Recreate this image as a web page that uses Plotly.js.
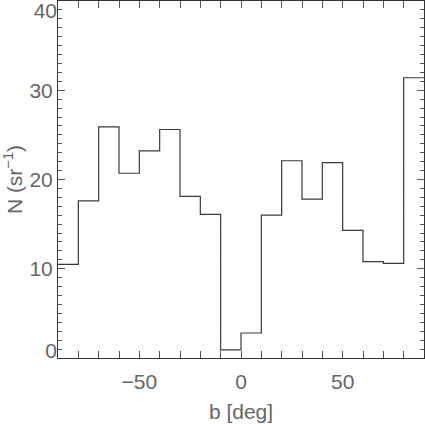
<!DOCTYPE html>
<html>
<head>
<meta charset="utf-8">
<script src="https://cdn.plot.ly/plotly-3.0.1.min.js"></script>
<style>
  body { margin: 0; padding: 0; background: #fff; }
  #myDiv1 { width: 425px; height: 424px; }
</style>
</head>
<body>
<div id="myDiv1"></div>
<script>
// bin edges in galactic latitude b, and counts per steradian
var binEdges = [-90, -80, -70, -60, -50, -40, -30, -20, -10, 0, 10, 20, 30, 40, 50, 60, 70, 80, 90];
var counts = [10.5, 17.6, 25.9, 20.7, 23.2, 25.6, 18.1, 16.1, 0.9, 2.8, 16.0, 22.1, 17.8, 21.9, 14.3, 10.8, 10.6, 31.4];
var yMidTicks = [10, 20, 30];
var yBottomTick = [0];
var yTopTick = [40];

// step line: each edge carries the value of the bin to its right, last edge repeats
var stepY = counts.concat([counts[counts.length - 1]]);

var trace1 = {
    x: binEdges,
    y: stepY,
    type: 'scatter',
    mode: 'lines',
    line: { shape: 'hv', color: '#3a3a3a', width: 1.2 },
    hoverinfo: 'skip'
};

// empty traces, only there so the label-only axes get drawn
var trace2 = { x: [], y: [], type: 'scatter', mode: 'lines', yaxis: 'y2', hoverinfo: 'skip' };
var trace3 = { x: [], y: [], type: 'scatter', mode: 'lines', yaxis: 'y3', hoverinfo: 'skip' };

var axisFont = { family: 'Liberation Sans Narrow, Liberation Sans, sans-serif', size: 21, color: '#666' };

// extra label-only axes so the end labels sit inside the frame, like the original
function labelAxis(vals, shift) {
    return {
        overlaying: 'y',
        range: [0, 40],
        tickmode: 'array',
        tickvals: vals,
        ticks: '',
        showline: false,
        showgrid: false,
        zeroline: false,
        tickfont: axisFont,
        ticklabelshift: shift,
        ticklabeloverflow: 'allow'
    };
}

var layout1 = {
    width: 425,
    height: 424,
    margin: { l: 58, r: 1, t: 1, b: 66 },
    paper_bgcolor: '#fff',
    plot_bgcolor: '#fff',
    showlegend: false,
    font: axisFont,
    xaxis: {
        range: [-90, 90],
        tickmode: 'linear',
        tick0: 0,
        dtick: 50,
        ticks: 'inside',
        ticklen: 7,
        tickcolor: '#555',
        minor: { dtick: 10, tick0: 0, ticks: 'inside', ticklen: 4, tickcolor: '#555', showgrid: false },
        showline: true,
        linecolor: '#333',
        linewidth: 1,
        mirror: 'allticks',
        showgrid: false,
        zeroline: false,
        tickfont: axisFont,
        ticklabelstandoff: 5,
        title: { text: 'b [deg]', font: axisFont, standoff: 12 }
    },
    yaxis: {
        range: [0, 40],
        tickmode: 'array',
        tickvals: yMidTicks,
        ticks: 'inside',
        ticklen: 7,
        tickcolor: '#555',
        minor: { dtick: 1, tick0: 0, ticks: 'inside', ticklen: 4, tickcolor: '#555', showgrid: false },
        showline: true,
        linecolor: '#333',
        linewidth: 1,
        mirror: 'allticks',
        showgrid: false,
        zeroline: false,
        tickfont: axisFont,
        title: { text: 'N (sr<sup>\u22121</sup>)', font: axisFont, standoff: 8 }
    },
    yaxis2: labelAxis(yBottomTick, -7),
    yaxis3: labelAxis(yTopTick, 10)
};

let config1 = {
    responsive: false,
    displayModeBar: false,
    staticPlot: true
};

Plotly.newPlot('myDiv1', [trace1, trace2, trace3], layout1, config1);
</script>
</body>
</html>
